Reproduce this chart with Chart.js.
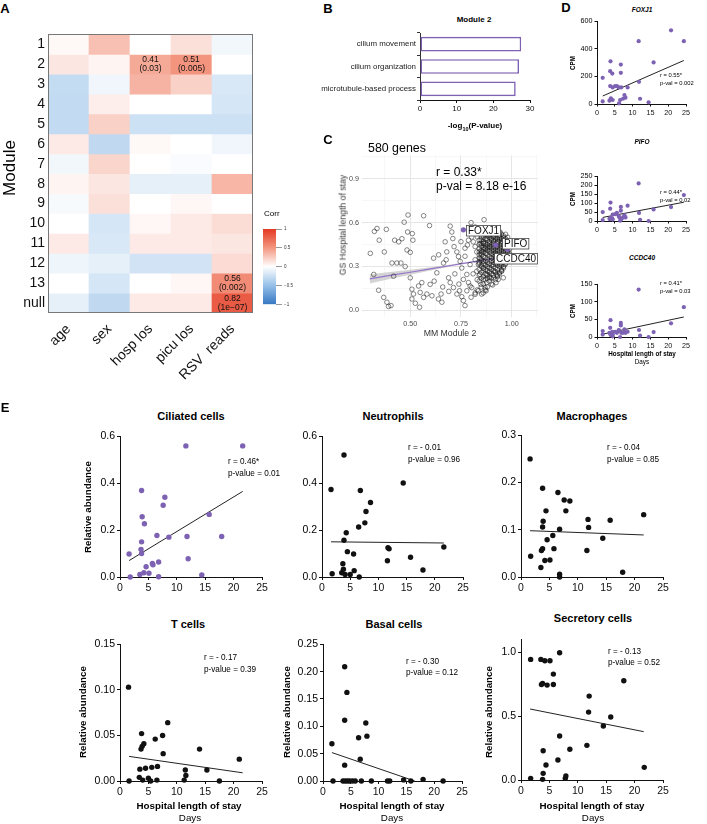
<!DOCTYPE html>
<html><head><meta charset="utf-8">
<script src="https://cdn.jsdelivr.net/npm/chart.js@4.4.1/dist/chart.umd.min.js"></script>
<style>
html,body{margin:0;padding:0;background:#fff;}
#root{position:relative;width:707px;height:824px;overflow:hidden;background:#fff;}
#root canvas{position:absolute;}
</style></head><body><div id="root"></div>
<script>
const FONT = "'Liberation Sans', Arial, Helvetica, sans-serif";
const PURPLE = '#7D62B3';

// ---------- Panel A: module-trait correlation ----------
const modules = ['1','2','3','4','5','6','7','8','9','10','11','12','13','null'];
const traits = ['age','sex','hosp los','picu los','RSV  reads'];
const corrAge  = [0.03,0.12,-0.28,-0.29,-0.29,0.10,-0.06,0.05,-0.04,0.00,0.10,-0.08,0.00,-0.12];
const corrSex  = [0.30,0.05,-0.07,0.08,0.22,-0.30,0.20,0.12,0.15,-0.20,-0.18,-0.12,-0.20,-0.30];
const corrHosp = [0.00,0.41,0.36,0.00,-0.24,0.03,0.00,-0.12,0.00,0.04,0.10,-0.22,0.00,0.10];
const corrPicu = [0.15,0.51,0.22,0.00,-0.24,0.00,-0.03,-0.12,0.04,0.10,0.10,-0.22,0.04,0.10];
const corrRsv  = [-0.06,0.00,-0.18,-0.20,-0.24,-0.07,0.00,0.35,0.00,0.16,0.12,0.17,0.56,0.82];
const noteRow = ['2','2','13','null'];
const noteTrait = ['hosp los','picu los','RSV  reads','RSV  reads'];
const noteR = ['0.41','0.51','0.56','0.82'];
const noteP = ['(0.03)','(0.005)','(0.002)','(1e\u221207)'];
const corrTicks = [-1,-0.5,0,0.5,1];
const corrTickLabels = ['\u22121','\u22120.5','0','0.5','1'];

// ---------- Panel B: GO enrichment ----------
const goTerms = ['cilium movement','cilium organization','microtubule-based process'];
const goLogP = [27.6,27.0,26.1];
const goTicks = [0,10,20,30];

// ---------- Panel C: MM vs GS ----------
const cSparse = [[0.303,0.39],[0.323,0.54],[0.336,0.56],[0.347,0.48],[0.372,0.40],[0.382,0.554],[0.320,0.246],
[0.344,0.138],[0.369,0.089],[0.385,0.056],[0.393,0.027],[0.405,0.033],[0.41,0.324],[0.434,0.324],[0.418,0.234],
[0.423,0.48],[0.443,0.469],[0.459,0.49],[0.454,0.324],[0.470,0.603],[0.475,0.30],[0.484,0.413],[0.489,0.652],
[0.50,0.397],[0.487,0.536],[0.510,0.525],[0.513,0.48],[0.50,0.223],[0.508,0.145],[0.516,0.112],[0.508,0.078],
[0.525,0.049],[0.546,0.022],[0.557,0.19],[0.541,0.167],[0.549,0.123],[0.566,0.647],[0.566,0.089],[0.582,0.112],
[0.595,0.58],[0.598,0.178],[0.615,0.357],[0.631,0.257],[0.618,0.20],[0.607,0.10],[0.639,0.078],[0.652,0.112],
[0.656,0.056],[0.664,0.324],[0.677,0.346],[0.680,0.40],[0.672,0.469],[0.689,0.223],[0.697,0.576],[0.705,0.536],
[0.710,0.491],[0.716,0.436],[0.730,0.40],[0.738,0.368],[0.746,0.335],[0.754,0.29],[0.697,0.19],[0.713,0.156],
[0.730,0.112],[0.743,0.134],[0.754,0.094],[0.762,0.067],[0.770,0.033],[0.762,0.212],[0.779,0.246],[0.787,0.19],
[0.795,0.167],[0.779,0.134],[0.803,0.156],[0.795,0.313],[0.770,0.425],[0.782,0.447],[0.787,0.48],[0.803,0.502],
[0.811,0.469],[0.820,0.436],[0.828,0.40],[0.864,0.62],[0.836,0.558],[0.852,0.536],[0.844,0.357],[0.820,0.346],
[0.836,0.313],[0.828,0.268],[0.844,0.246],[0.861,0.212],[0.848,0.178],[0.869,0.156],[0.836,0.134],[0.852,0.112],
[0.874,0.134],[0.861,0.29],[0.885,0.313],[0.893,0.268],[0.910,0.223],[0.923,0.19],[0.906,0.174],[0.877,0.19],
[0.926,0.246],[0.902,0.357],[0.918,0.39],[0.893,0.436],[0.910,0.48],[0.926,0.514],[0.943,0.536],[0.951,0.491],
[0.885,0.536],[0.877,0.491],[0.861,0.458],[0.869,0.424],[0.877,0.39],[0.852,0.40],[0.943,0.313],[0.951,0.268],
[0.959,0.223],[0.934,0.212],[0.938,0.357],[0.959,0.40],[0.975,0.368],[0.967,0.313],[0.984,0.335],[0.964,0.469],
[0.926,0.436],[0.934,0.469],[0.910,0.313],[0.918,0.268],[0.893,0.223],[0.877,0.246],[0.861,0.335],[0.844,0.458],
[0.831,0.502],[0.893,0.514],[0.902,0.547],[0.918,0.525],[0.80,0.60],[0.82,0.57],[0.79,0.55],[0.75,0.47],[0.77,0.37],
[0.81,0.25],[0.83,0.21],[0.80,0.09],[0.82,0.11],[0.74,0.18],[0.72,0.25],[0.66,0.16],[0.69,0.13],[0.64,0.38]];
const cCoreRows = [
[0.53,[0.88,0.91,0.94]],[0.52,[0.87,0.89,0.90,0.92,0.93,0.95,0.97]],[0.51,[0.86,0.88,0.91,0.94,0.96]],
[0.50,[0.85,0.86,0.89,0.91,0.92,0.94,0.96,0.98]],[0.49,[0.87,0.90,0.93,0.95,0.97]],
[0.48,[0.84,0.85,0.88,0.90,0.92,0.94,0.96,0.97]],[0.47,[0.86,0.89,0.91,0.93,0.95,0.98]],
[0.46,[0.85,0.86,0.87,0.89,0.91,0.93,0.95,0.97,0.99]],[0.45,[0.84,0.88,0.90,0.92,0.94,0.96,0.98]],
[0.44,[0.85,0.87,0.89,0.91,0.93,0.95,0.97,0.99]],[0.43,[0.86,0.88,0.90,0.92,0.94,0.96,0.98]],
[0.42,[0.84,0.86,0.87,0.89,0.91,0.93,0.95,0.97,0.99]],[0.41,[0.85,0.88,0.90,0.92,0.94,0.96,0.98]],
[0.40,[0.84,0.86,0.89,0.91,0.93,0.95,0.97,0.98]],[0.39,[0.85,0.87,0.90,0.92,0.94,0.96,0.99]],
[0.38,[0.84,0.85,0.88,0.91,0.93,0.95,0.97,0.99]],[0.37,[0.86,0.89,0.92,0.94,0.96,0.98]],
[0.36,[0.84,0.87,0.90,0.93,0.95,0.97]],[0.35,[0.85,0.88,0.91,0.94,0.96,0.98]],[0.34,[0.85,0.87,0.90,0.92,0.95,0.97]],
[0.33,[0.84,0.88,0.91,0.93,0.96]],[0.32,[0.84,0.86,0.89,0.92,0.94,0.97]],[0.31,[0.85,0.87,0.90,0.93,0.95]],
[0.30,[0.85,0.88,0.91,0.94,0.96]],[0.29,[0.86,0.89,0.92,0.96]],[0.28,[0.84,0.87,0.90,0.93,0.95]],
[0.27,[0.86,0.88,0.91,0.95]],[0.26,[0.85,0.89,0.92,0.94]],[0.25,[0.87,0.90,0.94]],[0.24,[0.84,0.88,0.91,0.93]],
[0.23,[0.86,0.89,0.93]],[0.22,[0.85,0.88,0.90]],[0.21,[0.87,0.92]],[0.20,[0.84,0.89]],[0.18,[0.86,0.90]],
[0.16,[0.85,0.88]],[0.14,[0.83,0.87]],[0.12,[0.82,0.86]]];
const cGenes = ['FOXJ1','PIFO','CCDC40'];
const cGeneMM = [0.762,0.921,0.979];
const cGeneGS = [0.551,0.447,0.418];
const cFitX  = [0.30,0.40,0.50,0.60,0.70,0.80,0.90,1.00];
const cFitY  = [0.216,0.239,0.261,0.284,0.307,0.330,0.352,0.375];
const cBandHi = [0.248,0.263,0.278,0.295,0.314,0.335,0.357,0.382];
const cBandLo = [0.184,0.215,0.244,0.273,0.300,0.325,0.347,0.368];
const cXTicks = [0.375,0.5,0.625,0.75,0.875,1.0,1.125];
const cXLabels = ['','0.50','','0.75','','1.00',''];
const cYTicks = [0,0.15,0.3,0.45,0.6,0.75,0.9,1.05];
const cYLabels = ['0.0','','0.3','','0.6','','0.9',''];

// ---------- Panel D: gene CPM vs stay ----------
const dDays  = [1.6,1.6,3.8,3.7,4.3,3.7,4.4,5.1,5.6,6.1,3.9,4.4,3.5,6.7,6.7,6.8,6.5,6.2,7.3,7.7,8.0,8.6,11.7,11.8,12.1,14.5,15.9,20.8,24.4];
const dFoxj1 = [190,19,310,238,221,130,120,130,130,120,41,29,24,286,226,120,29,5,38,65,46,120,456,161,38,12,302,535,456];
const dPifo  = [50,5,103,69,14,10,8,38,46,28,18,36,12,79,58,10,2,22,20,32,20,86,210,45,7,0,65,78,145];
const dCcdc40= [17,7,48,26,15,10,2,15,12,20,5,8,12,40,33,12,0,18,12,22,12,15,135,20,4,0,14,39,85];
const dFoxj1Fit = [[1.6,58],[24.4,316]];
const dPifoFit  = [[1.6,20],[24.4,105]];
const dCcdc40Fit= [[1.6,8],[24.4,57]];
const dXTicks = [0,5,10,15,20,25];
const dFoxj1Ticks = [0,200,400,600];
const dPifoTicks = [0,50,100,150,200,250];
const dCcdc40Ticks = [0,50,100,150];

// ---------- Panel E: cell-type abundance vs stay ----------
const eXTicks = [0,5,10,15,20,25];
const ciliated = [[1.6,0.098],[1.8,0.0],[3.5,0.011],[3.7,0.118],[3.8,0.10],[3.8,0.150],[3.8,0.369],[3.9,0.257],[4.2,0.018],
[4.3,0.227],[4.6,0.044],[5.1,0.016],[5.7,0.058],[5.8,0.052],[6.5,0.177],[6.8,0.064],[6.8,0.001],[7.6,0.306],[7.9,0.340],
[8.6,0.170],[11.6,0.559],[11.8,0.173],[12.0,0.078],[14.4,0.009],[15.7,0.267],[17.9,0.173],[21.6,0.559]];
const ciliatedFit = [[1.6,0.07],[21.6,0.365]];
const neutrophils = [[1.6,0.373],[1.8,0.014],[3.9,0.52],[6.8,0.369],[8.6,0.318],[7.8,0.279],[7.6,0.231],[6.5,0.213],
[4.3,0.189],[3.9,0.157],[4.5,0.108],[5.6,0.098],[3.7,0.057],[3.8,0.033],[3.5,0.018],[4.1,0.011],[5.7,0.027],[5.0,0.011],
[6.6,0.0],[11.7,0.125],[11.9,0.12],[11.6,0.069],[15.7,0.084],[17.9,0.030],[21.6,0.128],[14.4,0.401]];
const neutrophilsFit = [[1.6,0.150],[21.6,0.145]];
const macrophages = [[1.6,0.25],[1.7,0.044],[3.8,0.188],[4.4,0.140],[3.9,0.118],[3.8,0.106],[3.8,0.060],[3.6,0.056],
[3.5,0.020],[4.2,0.035],[5.1,0.036],[4.6,0.079],[5.6,0.088],[5.8,0.060],[6.5,0.179],[6.8,0.101],[6.8,0.006],[6.8,0.0],
[7.6,0.163],[8.6,0.161],[7.9,0.140],[11.8,0.122],[11.9,0.105],[11.6,0.056],[14.4,0.082],[15.7,0.120],[17.9,0.010],[21.6,0.132]];
const macrophagesFit = [[1.6,0.098],[21.6,0.089]];
const tcells = [[1.5,0.103],[1.6,0.0],[3.8,0.052],[3.7,0.035],[3.9,0.038],[4.2,0.041],[3.5,0.013],[4.5,0.014],[3.4,0.004],
[4.0,0.001],[5.0,0.003],[5.6,0.015],[5.4,0.0],[6.2,0.046],[6.6,0.016],[6.5,0.001],[7.5,0.050],[7.6,0.030],[8.4,0.064],
[11.5,0.012],[11.3,0.001],[11.6,0.006],[14.0,0.035],[15.3,0.012],[17.5,0.0],[21.0,0.024]];
const tcellsFit = [[1.6,0.027],[21.6,0.009]];
const basal = [[1.6,0.068],[1.8,0],[3.9,0.209],[4.3,0.162],[3.9,0.111],[3.9,0.029],[3.6,0],[4.0,0],[4.4,0],[4.8,0],[5.3,0],
[5.8,0],[6.4,0.079],[6.7,0.040],[6.9,0],[7.7,0.106],[7.9,0.082],[8.7,0],[11.6,0],[12.0,0],[14.5,0.002],[15.8,0],[18.0,0.003],[21.6,0]];
const basalFit = [[1.6,0.052],[16.5,0]];
const secretory = [[1.7,0.943],[1.7,0.013],[3.5,0.943],[4.2,0.932],[5.1,0.932],[6.8,0.995],[5.7,0.828],[3.8,0.755],[4.6,0.742],
[5.7,0.747],[3.6,0.747],[3.9,0.229],[4.4,0.117],[3.9,0.052],[3.8,0.005],[6.5,0.156],[6.8,0.344],[7.8,0.013],[7.9,0.031],
[8.6,0.240],[11.6,0.271],[11.9,0.531],[12.0,0.656],[14.5,0.422],[15.8,0.492],[18.1,0.776],[21.7,0.099]];
const secretoryFit = [[1.6,0.555],[21.6,0.378]];

// ================= helpers =================
const root = document.getElementById('root');
Chart.defaults.font.family = FONT;

function mk(area, pad, cfg) {
  const [x0,y0,x1,y1] = area, [L,Tp,R,B] = pad;
  const W = x1-x0+L+R, H = y1-y0+Tp+B;
  const cv = document.createElement('canvas');
  cv.width = W; cv.height = H;
  cv.style.left = (x0-L)+'px'; cv.style.top = (y0-Tp)+'px';
  cv.style.width = W+'px'; cv.style.height = H+'px';
  root.appendChild(cv);
  const o = cfg.options;
  Object.assign(o, {responsive:false, maintainAspectRatio:false, animation:false, devicePixelRatio:1});
  o.plugins = Object.assign({legend:{display:false}, tooltip:{enabled:false}, title:{display:false}}, o.plugins||{});
  const padd = {left:L, top:Tp, right:R, bottom:B};
  for (const k of Object.keys(o.scales)) {
    const s = o.scales[k];
    if (s.display === false) continue;
    if (k === 'x') { padd.bottom = 0; s.afterFit = sc => { sc.height = B; }; }
    else if (s.position === 'right') { padd.right = 0; s.afterFit = sc => { sc.width = R; }; }
    else { padd.left = 0; s.afterFit = sc => { sc.width = L; }; }
  }
  o.layout = {padding: padd};
  return new Chart(cv, cfg);
}

function T(x, y, s, o = {}) {
  const d = document.createElement('div');
  d.innerHTML = s;
  const tx = o.a === 'l' ? '0' : '-50%';
  d.style.cssText = `position:absolute;left:${x}px;top:${y}px;white-space:nowrap;font-family:${FONT};` +
    `font-size:${o.fs||10}px;font-weight:${o.b?'bold':'normal'};font-style:${o.i?'italic':'normal'};` +
    `color:${o.c||'#000'};line-height:1;transform:translate(${tx},-50%)${o.r?' rotate(-90deg)':''};`;
  root.appendChild(d);
}

function pAxis(min, max, ticks, dec, fs, tl, pad, col) {
  return {
    type: 'linear', min, max,
    afterBuildTicks: s => { s.ticks = ticks.map(v => ({value: v})); },
    ticks: {callback: v => Number(v).toFixed(dec), font: {family: FONT, size: fs}, color: col || '#111',
            padding: pad === undefined ? 2 : pad, autoSkip: false, maxRotation: 0, minRotation: 0},
    grid: {display: true, drawOnChartArea: false, drawTicks: true, tickLength: tl, color: '#111', lineWidth: 1},
    border: {display: true, color: '#111', width: 1}
  };
}

const pts = a => a.map(([x,y]) => ({x, y}));

function prismScatter(area, pad, data, fit, col, xT, yMin, yMax, yT, yDec, fs, tl, r) {
  return mk(area, pad, {
    type: 'scatter',
    data: {datasets: [
      {data: pts(data), pointRadius: r, backgroundColor: col, borderColor: col, borderWidth: 0, clip: false},
      {data: pts(fit), showLine: true, pointRadius: 0, borderColor: '#222', borderWidth: 1, fill: false, clip: false}
    ]},
    options: {scales: {
      x: pAxis(0, 25, xT, 0, fs, tl),
      y: pAxis(yMin, yMax, yT, yDec, fs, tl, 2, '#000')
    }}
  });
}

function corrColor(v) {
  const pos = [[0,[255,255,255]],[0.5,[243,150,128]],[1,[228,58,35]]];
  const neg = [[0,[255,255,255]],[0.5,[150,192,232]],[1,[55,120,195]]];
  const st = v >= 0 ? pos : neg; const a = Math.min(1, Math.abs(v));
  const i = a <= 0.5 ? 0 : 1;
  const [t0,c0] = st[i], [t1,c1] = st[i+1];
  const f = (a - t0)/(t1 - t0);
  return 'rgb(' + c0.map((x,k) => Math.round(x + (c1[k]-x)*f)).join(',') + ')';
}

// ================= Panel A heatmap =================
const corrCols = [corrAge, corrSex, corrHosp, corrPicu, corrRsv];
const frame = {id: 'frame', afterDatasetsDraw(ch) {
  const a = ch.chartArea, c = ch.ctx;
  c.save(); c.strokeStyle = '#777'; c.lineWidth = 1;
  c.strokeRect(Math.round(a.left)+0.5, Math.round(a.top)+0.5, Math.round(a.right-a.left)-1, Math.round(a.bottom-a.top)-1);
  c.restore();
}};
const notes = {id: 'notes', afterDatasetsDraw(ch) {
  const c = ch.ctx; c.save();
  c.font = `8.5px ${FONT}`; c.fillStyle = '#111'; c.textAlign = 'center'; c.textBaseline = 'middle';
  for (let i = 0; i < noteR.length; i++) {
    const x = ch.scales.x.getPixelForValue(traits.indexOf(noteTrait[i]));
    const y = ch.scales.y.getPixelForValue(modules.indexOf(noteRow[i]) + 1);
    c.fillText(noteR[i], x, y - 4.4);
    c.fillText(noteP[i], x, y + 4.4);
  }
  c.restore();
}};
mk([48, 31, 253, 313], [48, 8, 12, 90], {
  type: 'bar',
  data: {labels: traits, datasets: modules.map((m, r) => ({
    data: traits.map(() => [r + 0.5, r + 1.5]),
    backgroundColor: traits.map((t, j) => corrColor(corrCols[j][r])),
    borderWidth: 0, grouped: false, barPercentage: 1, categoryPercentage: 1
  }))},
  options: {scales: {
    x: {type: 'category', grid: {display: false, drawTicks: false}, border: {display: false},
        ticks: {font: {family: FONT, size: 14}, color: '#111', minRotation: 45, maxRotation: 45, padding: 8, autoSkip: false}},
    y: {type: 'linear', min: 0.5, max: 14.5, reverse: true,
        afterBuildTicks: s => { s.ticks = modules.map((m, i) => ({value: i + 1})); },
        grid: {display: false, drawTicks: false}, border: {display: false},
        ticks: {font: {family: FONT, size: 14}, color: '#111', padding: 3, autoSkip: false,
                callback: v => modules[Math.round(v) - 1]}}
  }},
  plugins: [frame, notes]
});

// colour bar
mk([263, 229, 276, 309], [0, 5, 26, 0], {
  type: 'bar',
  data: {labels: ['Corr'], datasets: [{
    data: [[-1, 1]], barPercentage: 1, categoryPercentage: 1, borderWidth: 0,
    backgroundColor: ctx => {
      const ch = ctx.chart, a = ch.chartArea; if (!a) return '#fff';
      const y = ch.scales.y;
      const g = ch.ctx.createLinearGradient(0, y.getPixelForValue(-1), 0, y.getPixelForValue(1));
      for (let k = 0; k <= 20; k++) { const v = -1 + k * 0.1; g.addColorStop(k / 20, corrColor(v)); }
      return g;
    }
  }]},
  options: {scales: {
    x: {display: false},
    y: {type: 'linear', position: 'right', min: -1, max: 1,
        afterBuildTicks: s => { s.ticks = corrTicks.map(v => ({value: v})); },
        grid: {display: true, drawOnChartArea: false, tickLength: 6, color: '#999', lineWidth: 1},
        border: {display: false},
        ticks: {font: {family: FONT, size: 4.5}, color: '#333', padding: 2, autoSkip: false,
                callback: (v, i) => corrTickLabels[i]}}
  }}
});

// ================= Panel B =================
mk([420, 33, 530, 100], [105, 6, 10, 22], {
  type: 'bar',
  data: {labels: goTerms, datasets: [{data: goLogP, backgroundColor: '#fff', borderColor: PURPLE, borderWidth: 1.6,
    borderSkipped: false, barPercentage: 0.66, categoryPercentage: 1}]},
  options: {indexAxis: 'y', scales: {
    x: pAxis(0, 30, goTicks, 0, 8, 3, 1),
    y: {type: 'category', grid: {display: true, drawOnChartArea: false, tickLength: 3, color: '#333'},
        border: {display: true, color: '#333', width: 1},
        ticks: {font: {family: FONT, size: 7.9}, color: '#222', padding: 1, autoSkip: false}}
  }}
});

// ================= Panel C =================
const cCore = [];
cCoreRows.forEach(([y, xs]) => xs.forEach(x => cCore.push([x, y])));
const cLabels = {id: 'clabels', afterDatasetsDraw(ch) {
  const c = ch.ctx, sx = ch.scales.x, sy = ch.scales.y;
  const off = [[3, 0], [6, -2], [-13, 8.5]];
  c.save(); c.font = `10px ${FONT}`; c.textBaseline = 'middle'; c.textAlign = 'left';
  cGenes.forEach((g, i) => {
    const px = sx.getPixelForValue(cGeneMM[i]), py = sy.getPixelForValue(cGeneGS[i]);
    const w = c.measureText(g).width + 3, h = 10.5;
    const bx = Math.round(px + off[i][0]) + 0.5, by = Math.round(py + off[i][1] - h / 2) + 0.5;
    c.fillStyle = '#fff'; c.fillRect(bx, by, w, h);
    c.strokeStyle = '#444'; c.lineWidth = 0.8; c.strokeRect(bx, by, w, h);
    c.fillStyle = '#111'; c.fillText(g, bx + 1.5, by + h / 2 + 0.5);
  });
  c.restore();
}};
const cGrid = (labels) => ({
  display: true, drawTicks: false, drawOnChartArea: true,
  color: ctx => labels[ctx.index] ? '#E3E3E3' : '#F1F1F1',
  lineWidth: ctx => labels[ctx.index] ? 0.9 : 0.6
});
mk([362, 152, 538, 317], [20, 4, 8, 14], {
  type: 'scatter',
  data: {datasets: [
    {data: cGenes.map((g, i) => ({x: cGeneMM[i], y: cGeneGS[i]})), pointRadius: 2.6, backgroundColor: PURPLE, borderWidth: 0},
    {data: pts(cSparse.concat(cCore)), pointRadius: 2.3, backgroundColor: 'rgba(0,0,0,0)', borderColor: 'rgba(20,20,20,0.78)', borderWidth: 0.65},
    {data: cFitX.map((x, i) => ({x, y: cFitY[i]})), showLine: true, pointRadius: 0, borderColor: '#9575C8', borderWidth: 1.2},
    {data: cFitX.map((x, i) => ({x, y: cBandHi[i]})), showLine: true, pointRadius: 0, borderWidth: 0, borderColor: 'rgba(0,0,0,0)', fill: false},
    {data: cFitX.map((x, i) => ({x, y: cBandLo[i]})), showLine: true, pointRadius: 0, borderWidth: 0, borderColor: 'rgba(0,0,0,0)',
     fill: '-1', backgroundColor: 'rgba(160,160,160,0.45)'}
  ]},
  options: {scales: {
    x: {type: 'linear', min: 0.262, max: 1.13,
        afterBuildTicks: s => { s.ticks = cXTicks.map(v => ({value: v})); },
        grid: cGrid(cXLabels), border: {display: false},
        ticks: {font: {family: FONT, size: 7.2}, color: '#4D4D4D', padding: 3, autoSkip: false, maxRotation: 0,
                callback: (v, i) => cXLabels[i]}},
    y: {type: 'linear', min: -0.045, max: 1.06,
        afterBuildTicks: s => { s.ticks = cYTicks.map(v => ({value: v})); },
        grid: cGrid(cYLabels), border: {display: false},
        ticks: {font: {family: FONT, size: 7.2}, color: '#4D4D4D', padding: 3, autoSkip: false,
                callback: (v, i) => cYLabels[i]}}
  }},
  plugins: [cLabels]
});

// ================= Panel D =================
const dPts = ys => dDays.map((d, i) => [d, ys[i]]);
prismScatter([597, 21, 686, 104], [26, 6, 8, 14], dPts(dFoxj1), dFoxj1Fit, PURPLE, dXTicks, 0, 600, dFoxj1Ticks, 0, 7.2, 2.5, 2.1);
prismScatter([597, 176, 686, 221], [26, 6, 8, 14], dPts(dPifo), dPifoFit, PURPLE, dXTicks, 0, 250, dPifoTicks, 0, 7.2, 2.5, 2.1);
prismScatter([597, 284, 686, 337], [26, 6, 8, 14], dPts(dCcdc40), dCcdc40Fit, PURPLE, dXTicks, 0, 150, dCcdc40Ticks, 0, 7.2, 2.5, 2.1);

// ================= Panel E =================
prismScatter([120, 436, 262, 577], [30, 8, 12, 20], ciliated, ciliatedFit, PURPLE, eXTicks, 0, 0.6, [0,0.2,0.4,0.6], 1, 10.5, 3, 2.7);
prismScatter([322, 436, 463, 577], [30, 8, 12, 20], neutrophils, neutrophilsFit, '#111', eXTicks, 0, 0.6, [0,0.2,0.4,0.6], 1, 10.5, 3, 2.7);
prismScatter([521, 435, 663, 577], [30, 8, 12, 20], macrophages, macrophagesFit, '#111', eXTicks, 0, 0.3, [0,0.1,0.2,0.3], 1, 10.5, 3, 2.7);
prismScatter([120, 644, 262, 781], [34, 8, 12, 20], tcells, tcellsFit, '#111', eXTicks, 0, 0.15, [0,0.05,0.1,0.15], 2, 10.5, 3, 2.7);
prismScatter([323, 644, 462, 781], [34, 8, 12, 20], basal, basalFit, '#111', eXTicks, 0, 0.25, [0,0.05,0.1,0.15,0.2,0.25], 2, 10.5, 3, 2.7);
prismScatter([521, 639, 663, 780], [30, 8, 12, 20], secretory, secretoryFit, '#111', eXTicks, 0, 1.1, [0,0.5,1.0], 1, 10.5, 3, 2.7);

// ================= Text =================
T(5, 8, 'A', {b: 1, fs: 13});
T(328, 8, 'B', {b: 1, fs: 13});
T(328, 139, 'C', {b: 1, fs: 13});
T(566, 7, 'D', {b: 1, fs: 13});
T(5, 407, 'E', {b: 1, fs: 13});
// A
T(9, 168, 'Module', {fs: 17, r: 1});
T(264, 214, 'Corr', {fs: 8, a: 'l'});
// B
T(474, 20, 'Module 2', {fs: 8, b: 1});
T(475, 127, '-log<sub style="font-size:5.5px">10</sub>(P-value)', {fs: 8, b: 1});
// C
T(368, 148, '580 genes', {fs: 12.4, a: 'l'});
T(436, 172, 'r = 0.33*', {fs: 12, a: 'l'});
T(436, 186, 'p-val = 8.18 e-16', {fs: 12, a: 'l'});
T(343, 225, 'GS Hospital length of stay', {fs: 8.7, r: 1, c: '#333'});
T(450, 333, 'MM Module 2', {fs: 8.7, c: '#333'});
// D
T(642, 10, 'FOXJ1', {fs: 6.5, b: 1, i: 1});
T(642, 142, 'PIFO', {fs: 6.5, b: 1, i: 1});
T(642, 258, 'CCDC40', {fs: 6.5, b: 1, i: 1});
T(573, 63, 'CPM', {fs: 6.3, b: 1, r: 1});
T(573, 199, 'CPM', {fs: 6.3, b: 1, r: 1});
T(573, 311, 'CPM', {fs: 6.3, b: 1, r: 1});
T(660, 76, 'r = 0.55*', {fs: 5.8, a: 'l'});
T(660, 83.5, 'p-val = 0.002', {fs: 5.8, a: 'l'});
T(660, 193, 'r = 0.44*', {fs: 5.8, a: 'l'});
T(660, 200.5, 'p-val = 0.02', {fs: 5.8, a: 'l'});
T(660, 284, 'r = 0.41*', {fs: 5.8, a: 'l'});
T(660, 291.5, 'p-val = 0.03', {fs: 5.8, a: 'l'});
T(642, 354, 'Hospital length of stay', {fs: 6.3, b: 1});
T(642, 362, 'Days', {fs: 6.3});
// E titles
T(191, 416, 'Ciliated cells', {fs: 11, b: 1});
T(393, 416, 'Neutrophils', {fs: 11, b: 1});
T(592, 416, 'Macrophages', {fs: 11, b: 1});
T(188, 624, 'T cells', {fs: 11, b: 1});
T(394, 624, 'Basal cells', {fs: 11, b: 1});
T(593, 618, 'Secretory cells', {fs: 11, b: 1});
// E axis titles
T(88, 507, 'Relative abundance', {fs: 9.8, b: 1, r: 1});
T(83, 712, 'Relative abundance', {fs: 9.8, b: 1, r: 1});
T(287, 712, 'Relative abundance', {fs: 9.8, b: 1, r: 1});
T(489, 712, 'Relative abundance', {fs: 9.8, b: 1, r: 1});
T(189, 806, 'Hospital length of stay', {fs: 9.8, b: 1});
T(190, 818, 'Days', {fs: 9.8});
T(392, 806, 'Hospital length of stay', {fs: 9.8, b: 1});
T(392, 818, 'Days', {fs: 9.8});
T(592, 806, 'Hospital length of stay', {fs: 9.8, b: 1});
T(593, 818, 'Days', {fs: 9.8});
// E stats
T(228, 462, 'r = 0.46*', {fs: 8.2, a: 'l'});
T(228, 473.5, 'p-value = 0.01', {fs: 8.2, a: 'l'});
T(408, 448, 'r = - 0.01', {fs: 8.2, a: 'l'});
T(408, 460, 'p-value = 0.96', {fs: 8.2, a: 'l'});
T(607, 448, 'r = - 0.04', {fs: 8.2, a: 'l'});
T(607, 460, 'p-value = 0.85', {fs: 8.2, a: 'l'});
T(204, 658, 'r = - 0.17', {fs: 8.2, a: 'l'});
T(204, 669.5, 'p-value = 0.39', {fs: 8.2, a: 'l'});
T(406, 662, 'r = - 0.30', {fs: 8.2, a: 'l'});
T(406, 673, 'p-value = 0.12', {fs: 8.2, a: 'l'});
T(608, 652, 'r = - 0.13', {fs: 8.2, a: 'l'});
T(608, 663, 'p-value = 0.52', {fs: 8.2, a: 'l'});
</script>
</body></html>
